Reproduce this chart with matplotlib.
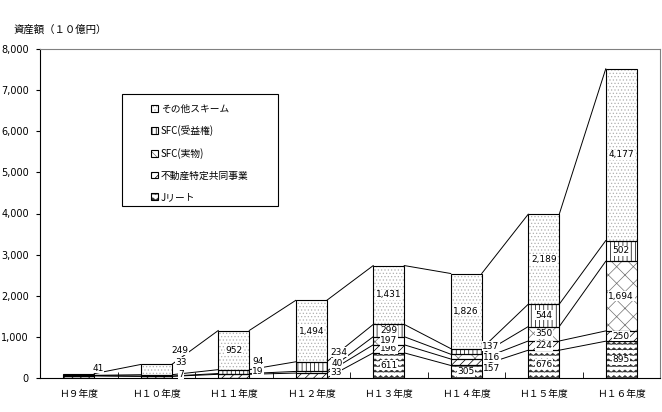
import warnings
import numpy as np
import matplotlib
matplotlib.use('Agg')
import matplotlib.pyplot as plt
import matplotlib.hatch as mhatch
from matplotlib.path import Path
from matplotlib.patches import Rectangle

warnings.filterwarnings('ignore')

plt.rcParams['font.family'] = ['Noto Sans CJK JP', 'DejaVu Sans']
plt.rcParams['hatch.linewidth'] = 0.5

# data (unit: 10億円)
years = ['Ｈ９年度', 'Ｈ１０年度', 'Ｈ１１年度', 'Ｈ１２年度',
         'Ｈ１３年度', 'Ｈ１４年度', 'Ｈ１５年度', 'Ｈ１６年度']
jreit = [0, 0, 0, 0, 611, 305, 676, 895]
fudosan = [50, 40, 90, 120, 196, 157, 224, 250]
sfc_jitsubutsu = [10, 7, 19, 40, 197, 116, 350, 1694]
sfc_juekiken = [5, 33, 94, 234, 299, 137, 544, 502]
sonota = [41, 249, 952, 1494, 1431, 1826, 2189, 4177]

series_names = ['Jリート', '不動産特定共同事業', 'SFC(実物)', 'SFC(受益権)', 'その他スキーム']
series = [jreit, fudosan, sfc_jitsubutsu, sfc_juekiken, sonota]

# which labels are shown, and text when it differs from value
label_text = {
    (0, 4): '41', (1, 4): '249', (1, 3): '33', (1, 2): '7',
    (2, 4): '952', (2, 3): '94', (2, 2): '19',
    (3, 4): '1,494', (3, 3): '234', (3, 2): '40', (3, 1): '33',
}
for i in range(4, 8):
    for k in range(5):
        label_text[(i, k)] = f'{series[k][i]:,}'

# labels moved off their segment (x in category units, y in data units)
label_pos = {
    (0, 4): (0.25, 242), (1, 4): (1.31, 679), (1, 3): (1.32, 388),
    (1, 2): (1.32, 97), (2, 3): (2.31, 412), (2, 2): (2.31, 170),
    (3, 3): (3.36, 630), (3, 2): (3.33, 364), (3, 1): (3.32, 145),
    (5, 3): (5.32, 776), (5, 2): (5.33, 509), (5, 1): (5.33, 242),
}


class WaveHatch(mhatch.HatchPatternBase):
    """zigzag rows, used with '~'"""
    def __init__(self, hatch, density):
        self.num_rows = int(hatch.count('~') * density)
        self.num_pts = 2 * self.num_rows + 1
        self.num_vertices = self.num_rows * self.num_pts

    def set_vertices_and_codes(self, vertices, codes):
        xs = np.linspace(0, 1, self.num_pts)
        up = (np.arange(self.num_pts) % 2) * 0.4 / max(self.num_rows, 1)
        off = 0
        for r in range(self.num_rows):
            vertices[off:off + self.num_pts, 0] = xs
            vertices[off:off + self.num_pts, 1] = r / self.num_rows + up
            codes[off] = Path.MOVETO
            codes[off + 1:off + self.num_pts] = Path.LINETO
            off += self.num_pts


mhatch._hatch_types.append(WaveHatch)

hatches = ['~~~', '////', 'xx', '||||', '.....']
hatch_colors = ['#303030', 'black', '#707070', 'black', '#b0b0b0']

fig = plt.figure(figsize=(6.62, 4.12), dpi=100)
ax = fig.add_axes([40 / 662, 34 / 412, 620 / 662, 329 / 412])

x = np.arange(len(years))
width = 0.4
bottoms = np.zeros(len(years))
handles = []
tops = []
for k, name in enumerate(series_names):
    vals = np.array(series[k], dtype=float)
    h1 = ax.bar(x, vals, width, bottom=bottoms, color='white',
                edgecolor=hatch_colors[k], hatch=hatches[k], linewidth=0, zorder=2)
    h2 = ax.bar(x, vals, width, bottom=bottoms, fill=False,
                edgecolor='black', linewidth=0.8, zorder=3)
    handles.append((h1, h2))
    bottoms = bottoms + vals
    tops.append(bottoms.copy())

# series lines
for k in range(len(series)):
    for i in range(len(years) - 1):
        ax.plot([x[i] + width / 2, x[i + 1] - width / 2],
                [tops[k][i], tops[k][i + 1]], color='black', lw=0.7, zorder=1)

# data labels
for (i, k), txt in label_text.items():
    if (i, k) in label_pos:
        lx, ly = label_pos[(i, k)]
    else:
        lx, ly = x[i], tops[k][i] - series[k][i] / 2
    ax.text(lx, ly, txt, ha='center', va='center', fontsize=6.5, zorder=5,
            family=['DejaVu Sans'],
            bbox=dict(facecolor='white', edgecolor='none', pad=0.3))

ax.set_xlim(-0.5, 7.5)
ax.set_ylim(0, 8000)
ax.set_yticks(np.arange(0, 8001, 1000))
ax.set_yticklabels([f'{v:,}' for v in range(0, 8001, 1000)], fontsize=7,
                   family=['DejaVu Sans'])
ax.set_xticks(x)
ax.set_xticklabels(years, fontsize=7)
ax.tick_params(axis='x', length=0, pad=8)
ax.tick_params(axis='y', length=3, direction='out', pad=5)
ax.set_xticks(np.arange(0.5, 7.5, 1), minor=True)
ax.tick_params(axis='x', which='minor', length=4, direction='in')

for s in ['top', 'right']:
    ax.spines[s].set_color('#808080')
    ax.spines[s].set_linewidth(0.8)
for s in ['left', 'bottom']:
    ax.spines[s].set_linewidth(0.8)

# legend, top entry first
leg = ax.legend(handles[::-1], series_names[::-1], loc='upper left',
                bbox_to_anchor=(0.179, 0.834), frameon=False, fontsize=7,
                handlelength=0.7, handleheight=0.7, handletextpad=0.3,
                labelspacing=1.2, borderpad=0, borderaxespad=0)
ax.add_patch(Rectangle((0.132, 0.523), 0.252, 0.34, transform=ax.transAxes,
                       fill=False, edgecolor='black', lw=0.8, zorder=6))

fig.text(14 / 662, 1 - 30 / 412, '資産額（１０億円）', fontsize=7.5, va='center')

fig.savefig('out.png', dpi=100)
